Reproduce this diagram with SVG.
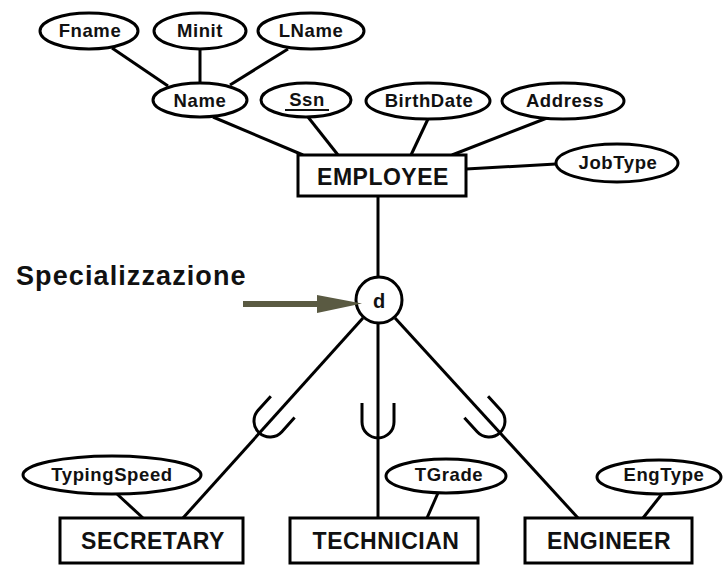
<svg xmlns="http://www.w3.org/2000/svg" width="723" height="565" viewBox="0 0 723 565">
<style>
.shape{fill:#fff;stroke:#000;stroke-width:3}
.ln{stroke:#000;stroke-width:3;fill:none}
.att{font-family:"Liberation Sans",Arial,sans-serif;font-weight:bold;font-size:18.5px;letter-spacing:0.6px;text-anchor:middle;fill:#111}
.ent{font-family:"Liberation Sans",Arial,sans-serif;font-weight:bold;font-size:23px;letter-spacing:0.5px;text-anchor:middle;fill:#111}
.lbl{font-family:"Liberation Sans",Arial,sans-serif;font-weight:bold;font-size:27px;letter-spacing:1.1px;fill:#111}
</style>
<defs>
<path id="subset" d="M -16,-19 L -16,0 A 16 16 0 0 0 16 0 L 16,-19" class="ln"/>
</defs>
<rect width="723" height="565" fill="#fff"/>
<g id="connectors">
<line class="ln" x1="112" y1="48" x2="168" y2="86"/>
<line class="ln" x1="200" y1="49" x2="200" y2="83"/>
<line class="ln" x1="288" y1="49" x2="230" y2="85"/>
<line class="ln" x1="213" y1="117" x2="303" y2="155"/>
<line class="ln" x1="308" y1="117" x2="338" y2="155"/>
<line class="ln" x1="428" y1="119" x2="411" y2="155"/>
<line class="ln" x1="547" y1="118" x2="452" y2="155"/>
<line class="ln" x1="466" y1="169" x2="556" y2="164"/>
<line class="ln" x1="378" y1="196" x2="378" y2="277"/>
<line class="ln" x1="363" y1="318" x2="183" y2="518"/>
<line class="ln" x1="378" y1="324" x2="378" y2="518"/>
<line class="ln" x1="395" y1="318" x2="578" y2="518"/>
<line class="ln" x1="117" y1="494" x2="143" y2="518"/>
<line class="ln" x1="438" y1="493" x2="427" y2="518"/>
<line class="ln" x1="662" y1="494" x2="643" y2="518"/>
<use href="#subset" transform="translate(270,421) rotate(42)"/>
<use href="#subset" transform="translate(378,422)"/>
<use href="#subset" transform="translate(489,421) rotate(-42.3)"/>
</g>
<g id="Fname"><ellipse class="shape" cx="89" cy="31" rx="49" ry="18"/><text class="att" x="90" y="37">Fname</text></g>
<g id="Minit"><ellipse class="shape" cx="200" cy="31" rx="46" ry="18"/><text class="att" x="200" y="37">Minit</text></g>
<g id="LName"><ellipse class="shape" cx="311" cy="31" rx="53" ry="18"/><text class="att" x="311" y="37">LName</text></g>
<g id="Name"><ellipse class="shape" cx="200" cy="100" rx="47" ry="17"/><text class="att" x="200" y="107">Name</text></g>
<g id="Ssn"><ellipse class="shape" cx="306" cy="100" rx="45" ry="17"/><text class="att" x="307" y="106">Ssn</text><line x1="285" y1="110" x2="329" y2="110" stroke="#111" stroke-width="2"/></g>
<g id="BirthDate"><ellipse class="shape" cx="428" cy="101" rx="62" ry="18"/><text class="att" x="429" y="107">BirthDate</text></g>
<g id="Address"><ellipse class="shape" cx="563" cy="101" rx="61" ry="18"/><text class="att" x="565" y="107">Address</text></g>
<g id="JobType"><ellipse class="shape" cx="617" cy="163" rx="61" ry="19"/><text class="att" x="618" y="169">JobType</text></g>
<g id="EMPLOYEE"><rect class="shape" x="298" y="155" width="168" height="41"/><text class="ent" x="383" y="185">EMPLOYEE</text></g>
<g id="d"><circle class="shape" cx="379" cy="300" r="23"/><text x="379" y="308" font-family="Liberation Sans,Arial,sans-serif" font-weight="bold" font-size="20" text-anchor="middle" fill="#111">d</text></g>
<g id="Specializzazione">
<text class="lbl" x="16" y="285">Specializzazione</text>
<rect x="243" y="301" width="78" height="6" fill="#5a5a42"/>
<polygon points="317,295 362,303.5 317,313" fill="#5a5a42"/>
</g>
<g id="TypingSpeed"><ellipse class="shape" cx="112" cy="475" rx="89" ry="19"/><text class="att" x="112" y="481">TypingSpeed</text></g>
<g id="TGrade"><ellipse class="shape" cx="446" cy="476" rx="60" ry="17"/><text class="att" x="449" y="481">TGrade</text></g>
<g id="EngType"><ellipse class="shape" cx="659" cy="477" rx="62" ry="17"/><text class="att" x="664" y="481">EngType</text></g>
<g id="SECRETARY"><rect class="shape" x="60" y="518" width="183" height="45"/><text class="ent" x="153" y="549">SECRETARY</text></g>
<g id="TECHNICIAN"><rect class="shape" x="290" y="518" width="188" height="45"/><text class="ent" x="386" y="549">TECHNICIAN</text></g>
<g id="ENGINEER"><rect class="shape" x="525" y="518" width="167" height="45"/><text class="ent" x="609" y="549">ENGINEER</text></g>
</svg>
